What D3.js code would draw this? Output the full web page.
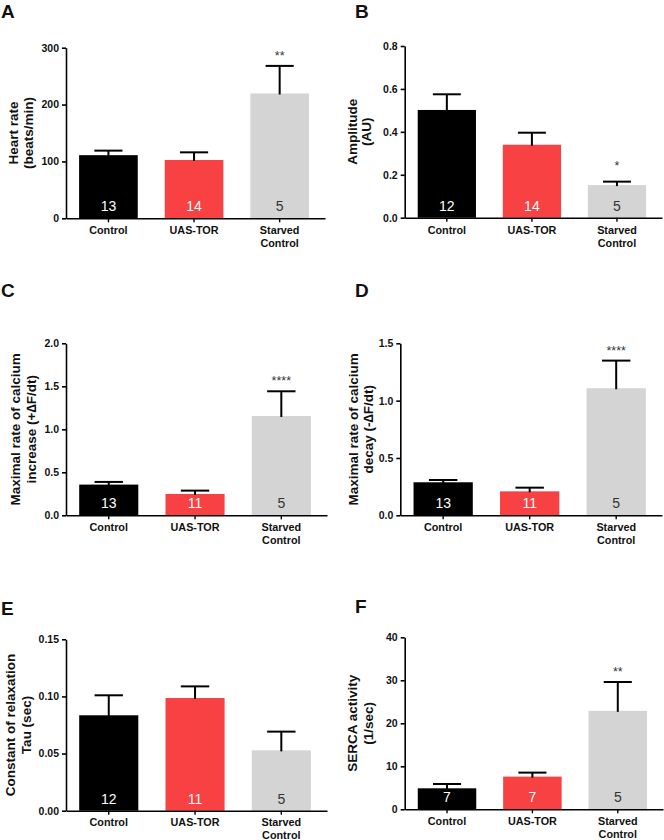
<!DOCTYPE html>
<html>
<head>
<meta charset="utf-8">
<script src="https://cdn.jsdelivr.net/npm/d3@7"></script>
<style>
  html, body { margin: 0; padding: 0; background: #fff; }
  svg { display: block; font-family: "Liberation Sans", Arial, sans-serif; }
</style>
</head>
<body>
<svg id="chart" width="664" height="840"></svg>
<script>
// ---------- data ----------
const categories = ["Control", "UAS-TOR", "Starved Control"];
const categoryLines = [["Control"], ["UAS-TOR"], ["Starved", "Control"]];
const barColors = ["#000000", "#f84142", "#d4d4d4"];
const countColors = ["#ffffff", "#ffffff", "#333333"];

const heartRateMean = [111, 102.5, 219.5];
const heartRateErr = [8, 13.5, 48.5];
const heartRateN = [13, 14, 5];
const heartRateSig = ["", "", "**"];
const heartRateTicks = [0, 100, 200, 300];

const amplitudeMean = [0.502, 0.340, 0.152];
const amplitudeErr = [0.073, 0.056, 0.016];
const amplitudeN = [12, 14, 5];
const amplitudeSig = ["", "", "*"];
const amplitudeTicks = [0, 0.2, 0.4, 0.6, 0.8];

const increaseMean = [0.357, 0.248, 1.155];
const increaseErr = [0.031, 0.039, 0.287];
const increaseN = [13, 11, 5];
const increaseSig = ["", "", "****"];
const increaseTicks = [0, 0.5, 1.0, 1.5, 2.0];

const decayMean = [0.288, 0.209, 1.108];
const decayErr = [0.020, 0.032, 0.241];
const decayN = [13, 11, 5];
const decaySig = ["", "", "****"];
const decayTicks = [0, 0.5, 1.0, 1.5];

const tauMean = [0.0835, 0.0986, 0.0528];
const tauErr = [0.0175, 0.0102, 0.0164];
const tauN = [12, 11, 5];
const tauSig = ["", "", ""];
const tauTicks = [0, 0.05, 0.10, 0.15];

const sercaMean = [4.88, 7.6, 22.9];
const sercaErr = [1.01, 0.93, 6.7];
const sercaN = [7, 7, 5];
const sercaSig = ["", "", "**"];
const sercaTicks = [0, 10, 20, 30, 40];

// ---------- panels (layout) ----------
const panels = [
  { letter: "A", lx: 1, ly: 18, x0: 66, x1: 325, yTop: 47.7, yBot: 218.3, lab: 16,
    mean: heartRateMean, err: heartRateErr, n: heartRateN, sig: heartRateSig,
    ticks: heartRateTicks, fmt: d3.format("d"), title: ["Heart rate", "(beats/min)"], tx: [-53, -38] },
  { letter: "B", lx: 355, ly: 18, x0: 404.7, x1: 662, yTop: 46, yBot: 217.7, lab: 16,
    mean: amplitudeMean, err: amplitudeErr, n: amplitudeN, sig: amplitudeSig,
    ticks: amplitudeTicks, fmt: d3.format(".1f"), title: ["Amplitude", "(AU)"], tx: [-52.7, -38.5] },
  { letter: "C", lx: 1, ly: 297, x0: 66, x1: 327, yTop: 343.3, yBot: 515.3, lab: 16,
    mean: increaseMean, err: increaseErr, n: increaseN, sig: increaseSig,
    ticks: increaseTicks, fmt: d3.format(".1f"), title: ["Maximal rate of calcium", "increase (+\u2206F/dt)"], tx: [-51, -34.5] },
  { letter: "D", lx: 355, ly: 297, x0: 400.3, x1: 662, yTop: 343.3, yBot: 515.3, lab: 16,
    mean: decayMean, err: decayErr, n: decayN, sig: decaySig,
    ticks: decayTicks, fmt: d3.format(".1f"), title: ["Maximal rate of calcium", "decay (-\u2206F/dt)"], tx: [-46.6, -31.6] },
  { letter: "E", lx: 1, ly: 615, x0: 66, x1: 327, yTop: 639.3, yBot: 810.7, lab: 15,
    mean: tauMean, err: tauErr, n: tauN, sig: tauSig,
    ticks: tauTicks, fmt: d3.format(".2f"), title: ["Constant of relaxation", "Tau (sec)"], tx: [-56, -39.3] },
  { letter: "F", lx: 355, ly: 613, x0: 404.7, x1: 663, yTop: 637.3, yBot: 809.3, lab: 15.5,
    mean: sercaMean, err: sercaErr, n: sercaN, sig: sercaSig,
    ticks: sercaTicks, fmt: d3.format("d"), title: ["SERCA activity", "(1/sec)"], tx: [-52.7, -36] }
];

const svg = d3.select("#chart");

panels.forEach(p => {
  const g = svg.append("g");
  const x = d3.scaleBand().domain(categories).range([p.x0, p.x1])
    .paddingInner(0.315).paddingOuter(0.17).align(0.45);
  const y = d3.scaleLinear().domain([0, p.ticks[p.ticks.length - 1]]).range([p.yBot, p.yTop]);
  const rows = categories.map((c, i) => ({ c, i, m: p.mean[i], e: p.err[i], n: p.n[i], s: p.sig[i] }));

  // panel letter
  g.append("text").attr("x", p.lx).attr("y", p.ly)
    .attr("font-size", 19).attr("font-weight", "bold").attr("fill", "#111")
    .text(p.letter);

  // bars
  g.selectAll("rect.bar").data(rows).join("rect")
    .attr("x", d => x(d.c)).attr("width", x.bandwidth())
    .attr("y", d => y(d.m)).attr("height", d => y(0) - y(d.m))
    .attr("fill", (d, i) => barColors[i]);

  // error bars (upper only)
  const cap = x.bandwidth() * 0.48;
  g.selectAll("line.err").data(rows).join("line")
    .attr("x1", d => x(d.c) + x.bandwidth() / 2).attr("x2", d => x(d.c) + x.bandwidth() / 2)
    .attr("y1", d => y(d.m) + 1).attr("y2", d => y(d.m + d.e))
    .attr("stroke", "#000").attr("stroke-width", 2);
  g.selectAll("line.cap").data(rows).join("line")
    .attr("x1", d => x(d.c) + x.bandwidth() / 2 - cap / 2).attr("x2", d => x(d.c) + x.bandwidth() / 2 + cap / 2)
    .attr("y1", d => y(d.m + d.e)).attr("y2", d => y(d.m + d.e))
    .attr("stroke", "#000").attr("stroke-width", 2);

  // significance
  g.selectAll("text.sig").data(rows.filter(d => d.s)).join("text")
    .attr("x", d => x(d.c) + x.bandwidth() / 2).attr("y", d => y(d.m + d.e) - (d.s === "*" ? 12 : 6))
    .attr("text-anchor", "middle").attr("font-size", 12.5).attr("fill", "#333")
    .text(d => d.s);

  // n labels
  g.selectAll("text.n").data(rows).join("text")
    .attr("x", d => x(d.c) + x.bandwidth() / 2).attr("y", y(0) - 7)
    .attr("text-anchor", "middle").attr("font-size", 14)
    .attr("fill", (d, i) => countColors[i])
    .text(d => d.n);

  // y axis
  const ya = g.append("g").attr("transform", `translate(${p.x0},0)`)
    .call(d3.axisLeft(y).tickValues(p.ticks).tickFormat(p.fmt).tickSize(4).tickPadding(3).tickSizeOuter(0));
  ya.select(".domain").attr("stroke", "#000").attr("stroke-width", 1.6);
  ya.selectAll(".tick line").attr("stroke", "#000").attr("stroke-width", 1.6);
  ya.selectAll(".tick text").attr("font-size", 10.5).attr("font-weight", "bold").attr("fill", "#111")
    .attr("font-family", "'Liberation Sans', Arial, sans-serif");

  // x axis
  const xa = g.append("g").attr("transform", `translate(0,${p.yBot})`)
    .call(d3.axisBottom(x).tickSize(4).tickSizeOuter(0).tickFormat(""));
  xa.select(".domain").attr("stroke", "#000").attr("stroke-width", 1.6);
  xa.selectAll(".tick line").attr("stroke", "#000").attr("stroke-width", 1.4);

  // category labels
  rows.forEach(d => {
    categoryLines[d.i].forEach((line, k) => {
      g.append("text")
        .attr("x", x(d.c) + x.bandwidth() / 2).attr("y", p.yBot + p.lab + k * 12.8)
        .attr("text-anchor", "middle").attr("font-size", 10.8).attr("font-weight", "bold").attr("fill", "#111")
        .text(line);
    });
  });

  // y title
  const cy = (p.yTop + p.yBot) / 2;
  p.title.forEach((t, k) => {
    g.append("text")
      .attr("transform", `translate(${p.x0 + p.tx[k]},${cy}) rotate(-90)`)
      .attr("text-anchor", "middle").attr("dy", "0.35em")
      .attr("font-size", 13.5).attr("font-weight", "bold").attr("fill", "#111")
      .text(t);
  });
});
</script>
</body>
</html>
